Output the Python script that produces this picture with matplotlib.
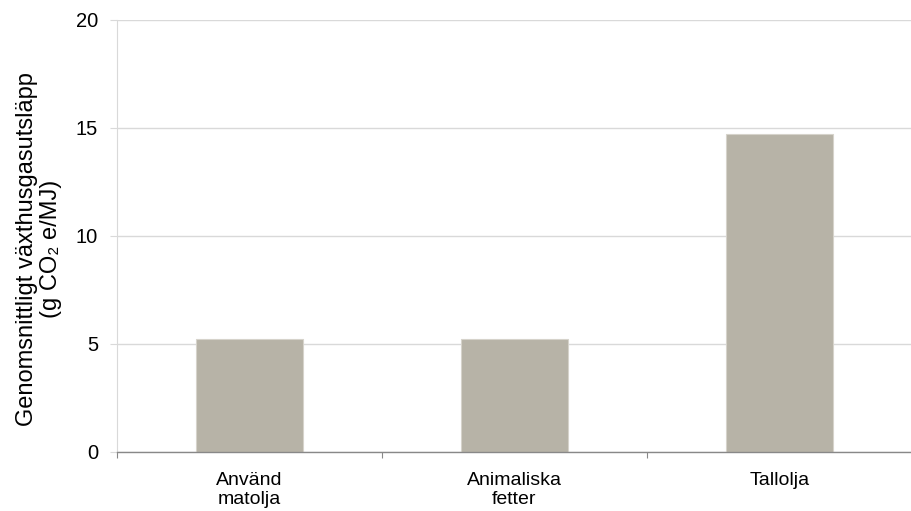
import numpy as np
import matplotlib
matplotlib.use("Agg")
import matplotlib.pyplot as plt

plt.rcParams['font.family'] = ['Liberation Sans', 'DejaVu Sans']

# Data
kategorier = ["Använd\nmatolja", "Animaliska\nfetter", "Tallolja"]
utslapp = [5.23, 5.23, 14.7]
y_ticks = [0, 5, 10, 15, 20]

fig = plt.figure(figsize=(9.12, 5.11), dpi=100)
ax = fig.add_axes([0.128, 0.1155, 0.872, 0.8455])

x = np.arange(len(kategorier))
ax.bar(x, utslapp, width=0.405, color="#b7b3a7", edgecolor="#d6d3cb",
       linewidth=0.8, zorder=3)

ax.set_xlim(-0.5, len(kategorier) - 0.5)
ax.set_ylim(0, 20)
ax.set_yticks(y_ticks)
ax.grid(axis="y", color="#d9d9d9", linewidth=1.0, zorder=0)

# kategoriernas etiketter i mitten, streck vid gränserna
ax.set_xticks(x)
ax.set_xticklabels(kategorier, fontsize=14, linespacing=1.15)
ax.tick_params(axis="x", which="major", length=0, pad=14.5)
ax.set_xticks(np.arange(len(kategorier) + 1) - 0.5, minor=True)
ax.tick_params(axis="x", which="minor", length=4.3, color="#888888", width=0.8)
ax.tick_params(axis="y", length=5, color="#d9d9d9", labelsize=14.5, pad=8.5)

for s in ["top", "right"]:
    ax.spines[s].set_visible(False)
ax.spines["left"].set_color("#d9d9d9")
ax.spines["bottom"].set_color("#888888")
ax.spines["bottom"].set_linewidth(1.0)
ax.spines["bottom"].set_zorder(4)

ax.set_ylabel("Genomsnittligt växthusgasutsläpp\n(g CO\u2082 e/MJ)", fontsize=17,
              linespacing=1.1)
ax.yaxis.set_label_coords(-0.069, 0.47)

plt.savefig("out.png", dpi=100)
